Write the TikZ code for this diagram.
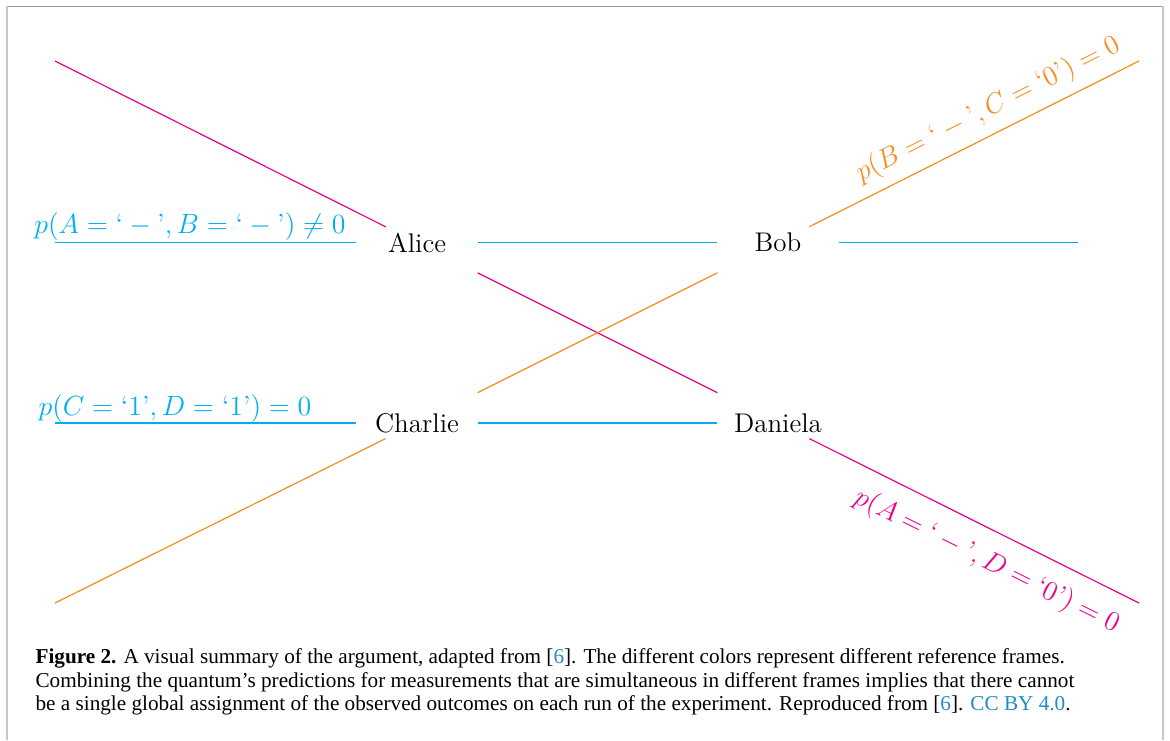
\RequirePackage{fix-cm}
\documentclass[tikz,border=0pt]{standalone}
\usepackage{amsmath,amssymb}
\usepackage{xcolor}
\usepackage{fontspec}
\newfontfamily\capfont{Liberation Serif}
\usepackage{tikz}
\usetikzlibrary{calc}

\definecolor{framecyan}{RGB}{0,174,239}
\definecolor{framepink}{RGB}{236,0,140}
\definecolor{frameorange}{RGB}{250,140,30}
\definecolor{linkblue}{RGB}{30,140,200}

\begin{document}
\begin{tikzpicture}[x=0.5pt,y=-0.5pt,line width=0.6pt,
    observer/.style={rectangle,minimum width=60pt,minimum height=32pt,inner sep=0pt,
      font=\fontsize{13.5}{16}\selectfont},
    prob/.style={font=\fontsize{13.9}{16}\selectfont},
    capline/.style={anchor=base west,inner sep=0pt,font=\capfont\fontsize{10.6}{12}\selectfont}]
    \useasboundingbox (0,0) rectangle (1170,740);
    % frame round the figure
    \draw[black!40,line width=0.5pt] (7,6) -- (1163,6);
    \draw[black!22,line width=1pt] (7,6) -- (7,740) (1163,6) -- (1163,740);

    % observers
    \node[observer] (alice) at (417,242.5) {Alice};
    \node[observer] (bob) at (778,242.5) {Bob};
    \node[observer] (charlie) at (417,423) {Charlie};
    \node[observer] (daniela) at (778,423) {Daniela};

    % free ends
    \coordinate (aw) at (55,242.5);
    \coordinate (cw) at (55,423);
    \coordinate (be) at (1078,242.5);
    \coordinate (anw) at (55,61);
    \coordinate (bne) at (1139,61);
    \coordinate (csw) at (55,603);
    \coordinate (dse) at (1139,603);

    % cyan frame
    \draw[framecyan] (aw) -- (alice);
    \draw[framecyan] (alice) -- (bob);
    \draw[framecyan] (bob) -- (be);
    \draw[framecyan] (cw) -- (charlie);
    \draw[framecyan] (charlie) -- (daniela);
    \node[prob,text=framecyan,anchor=base] (pab) at (190,233)
      {$p(A=\text{`}-\text{'},B=\text{`}-\text{'})\neq 0$};
    \node[prob,text=framecyan,anchor=base] (pcd) at (175,415)
      {$p(C=\text{`1'},D=\text{`1'})=0$};

    % pink frame
    \draw[framepink,shorten >=17.5pt] (anw) -- (alice.center);
    \draw[framepink] (alice) -- (daniela);
    \draw[framepink,shorten <=17.5pt] (daniela.center) -- node[prob,sloped,below=4.8pt,pos=0.616,text=framepink] (pad)
      {$p(A=\text{`}-\text{'},D=\text{`0'})=0$} (dse);

    % orange frame
    \draw[frameorange] (charlie) -- (bob);
    \draw[frameorange,shorten <=17.5pt] (charlie.center) -- (csw);
    \draw[frameorange,shorten <=17.5pt] (bob.center) -- node[prob,sloped,above=1.5pt,pos=0.612,text=frameorange] (pbc)
      {$p(B=\text{`}-\text{'},C=\text{`0'})=0$} (bne);

    % caption
    \node[capline] (cap1) at (35,663) {\textbf{Figure 2.} A visual summary of the argument, adapted from [\textcolor{linkblue}{6}]. The different colors represent different reference frames.};
    \node[capline] (cap2) at (35,687) {Combining the quantum’s predictions for measurements that are simultaneous in different frames implies that there cannot};
    \node[capline] (cap3) at (35,710) {be a single global assignment of the observed outcomes on each run of the experiment. Reproduced from [\textcolor{linkblue}{6}]. \textcolor{linkblue}{CC BY 4.0}.};
\end{tikzpicture}
\end{document}
